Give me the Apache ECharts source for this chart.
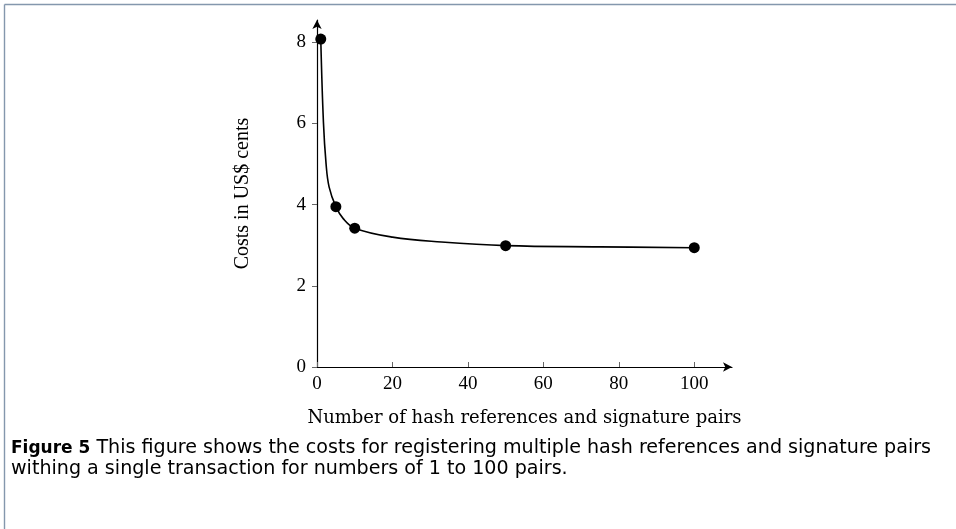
<!DOCTYPE html>
<html>
<head>
<meta charset="utf-8">
<script src="https://cdn.jsdelivr.net/npm/echarts@6/dist/echarts.min.js"></script>
<style>
html,body{margin:0;padding:0;background:#fff;}
#c{width:956px;height:529px;}
</style>
</head>
<body>
<div id="c"></div>
<script>
// Measured points (marks)
const pairCounts = [1, 5, 10, 50, 100];
const costsCents = [8.08, 3.95, 3.42, 2.99, 2.94];
// Curve values
const curveX = [1, 1.7, 2.4, 3.2, 5, 7, 10, 20, 33, 50, 75, 100];
const curveY = [8.08, 6.04, 5.01, 4.44, 3.95, 3.65, 3.42, 3.2, 3.08, 2.99, 2.96, 2.94];
// Tick values
const xTicks = [0, 20, 40, 60, 80, 100];
const yTicks = [0, 2, 4, 6, 8];

const serif = '"Liberation Serif", serif';
const wideSerif = '"DejaVu Serif", serif';
const sans = '"DejaVu Sans", sans-serif';
const chart = echarts.init(document.getElementById('c'));
chart.setOption({
  animation: false,
  backgroundColor: '#fff',
  grid: {left: 317, right: 224, top: 20, bottom: 162, containLabel: false},
  xAxis: {
    type: 'value', min: 0, max: 110,
    name: 'Number of hash references and signature pairs',
    nameLocation: 'middle', nameGap: 42,
    nameTextStyle: {fontFamily: wideSerif, fontSize: 18, color: '#000'},
    axisLine: {show: true, lineStyle: {color: '#000', width: 1.2}, symbol: ['none', 'arrow'], symbolSize: [7, 9], onZero: false},
    axisTick: {show: true, inside: true, length: 5, lineStyle: {color: '#666'}, customValues: xTicks},
    axisLabel: {fontFamily: serif, fontSize: 19, color: '#000', margin: 8, customValues: xTicks},
    splitLine: {show: false}
  },
  yAxis: {
    type: 'value', min: 0, max: 8.55,
    name: 'Costs in US$ cents',
    nameLocation: 'middle', nameGap: 64,
    nameTextStyle: {fontFamily: serif, fontSize: 20, color: '#000'},
    axisLine: {show: true, lineStyle: {color: '#000', width: 1.2}, symbol: ['none', 'arrow'], symbolSize: [7, 9], onZero: false},
    axisTick: {show: true, inside: false, length: 5, lineStyle: {color: '#666'}, customValues: yTicks},
    axisLabel: {fontFamily: serif, fontSize: 19, color: '#000', margin: 11, customValues: yTicks},
    splitLine: {show: false}
  },
  series: [
    {
      type: 'line',
      data: curveX.map((x, i) => [x, curveY[i]]),
      smooth: 0.4,
      showSymbol: false,
      lineStyle: {color: '#000', width: 1.6},
      z: 2
    },
    {
      type: 'scatter',
      data: pairCounts.map((x, i) => [x, costsCents[i]]),
      symbol: 'circle', symbolSize: 11,
      itemStyle: {color: '#000', opacity: 1},
      z: 3
    }
  ],
  graphic: [
    {type: 'line', shape: {x1: 4.5, y1: 4.5, x2: 956, y2: 4.5}, style: {stroke: '#8497ad', lineWidth: 1.4}},
    {type: 'line', shape: {x1: 4.5, y1: 4.5, x2: 4.5, y2: 529}, style: {stroke: '#8497ad', lineWidth: 1.4}},
    {
      type: 'text', left: 11, top: 438,
      style: {
        text: '{b|Figure 5} This figure shows the costs for registering multiple hash references and signature pairs\nwithing a single transaction for numbers of 1 to 100 pairs.',
        rich: {
          b: {fontFamily: sans, fontSize: 17, fontWeight: 'bold', fill: '#000'}
        },
        fontFamily: sans, fontSize: 19.1, fill: '#000', lineHeight: 21
      }
    }
  ]
});
</script>
</body>
</html>
